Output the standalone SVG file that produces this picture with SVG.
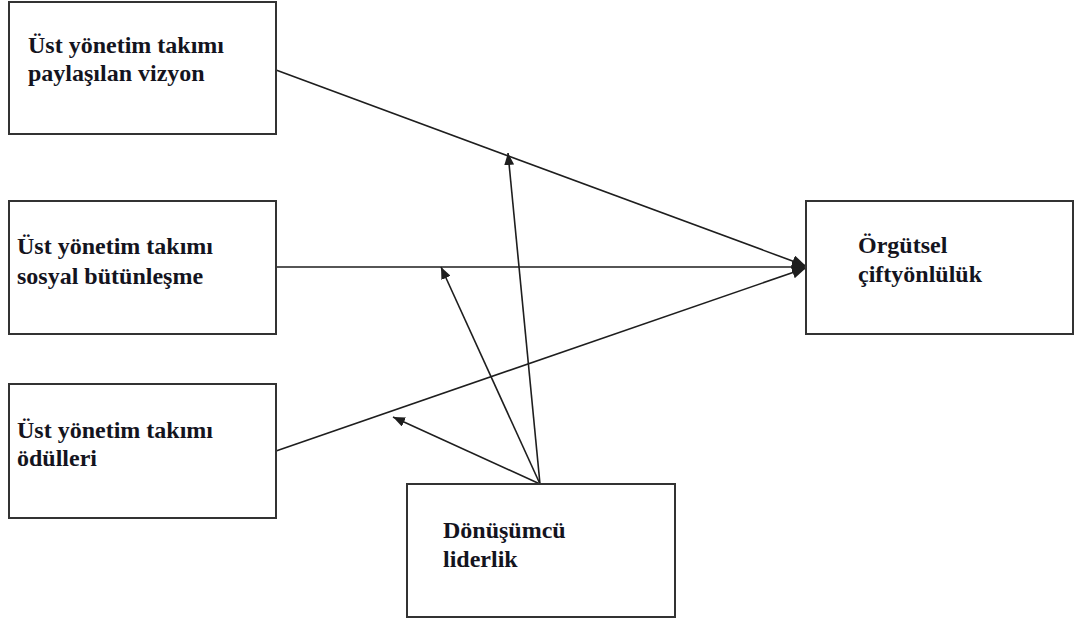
<svg xmlns="http://www.w3.org/2000/svg" width="1075" height="621" viewBox="0 0 1075 621">
  <style>
    .box { fill: #ffffff; stroke: #333333; stroke-width: 2; }
    .lbl { font-family: "Liberation Serif", "Times New Roman", serif; font-weight: bold; font-size: 24px; fill: #14141e; }
    .link { fill: none; stroke: #1e1e1e; stroke-width: 1.6; }
  </style>
  <defs>
    <marker id="tip" viewBox="0 0 12 10" refX="12" refY="5" markerWidth="12" markerHeight="10" markerUnits="userSpaceOnUse" orient="auto">
      <path d="M0,0 L12,5 L0,10 Z" fill="#1e1e1e"/>
    </marker>
    <marker id="tipBig" viewBox="0 0 14 12" refX="14" refY="6" markerWidth="14" markerHeight="12" markerUnits="userSpaceOnUse" orient="auto">
      <path d="M0,0 L14,6 L0,12 Z" fill="#1e1e1e"/>
    </marker>
  </defs>

  <g id="connectors">
    <line class="link" x1="276" y1="70" x2="806" y2="266" marker-end="url(#tipBig)"/>
    <line class="link" x1="276" y1="267" x2="806" y2="267" stroke="#555555" stroke-width="2" marker-end="url(#tipBig)"/>
    <line class="link" x1="276" y1="451" x2="806" y2="268" marker-end="url(#tipBig)"/>
    <line class="link" x1="540" y1="484" x2="508" y2="153" marker-end="url(#tip)"/>
    <line class="link" x1="540" y1="484" x2="441" y2="267" marker-end="url(#tip)"/>
    <line class="link" x1="540" y1="484" x2="393" y2="417" marker-end="url(#tip)"/>
  </g>

  <g id="node-vizyon">
    <rect class="box" x="9" y="2" width="267" height="132"/>
    <text class="lbl" x="28" y="53">Üst yönetim takımı</text>
    <text class="lbl" x="28" y="81">paylaşılan vizyon</text>
  </g>

  <g id="node-butunlesme">
    <rect class="box" x="9" y="201" width="267" height="133"/>
    <text class="lbl" x="17" y="254">Üst yönetim takımı</text>
    <text class="lbl" x="17" y="284">sosyal bütünleşme</text>
  </g>

  <g id="node-oduller">
    <rect class="box" x="9" y="384" width="267" height="134"/>
    <text class="lbl" x="17" y="438">Üst yönetim takımı</text>
    <text class="lbl" x="17" y="466">ödülleri</text>
  </g>

  <g id="node-liderlik">
    <rect class="box" x="407" y="484" width="268" height="133"/>
    <text class="lbl" x="443" y="538">Dönüşümcü</text>
    <text class="lbl" x="443" y="567">liderlik</text>
  </g>

  <g id="node-ciftyonluluk">
    <rect class="box" x="806" y="201" width="267" height="133"/>
    <text class="lbl" x="858" y="253">Örgütsel</text>
    <text class="lbl" x="858" y="282">çiftyönlülük</text>
  </g>
</svg>
